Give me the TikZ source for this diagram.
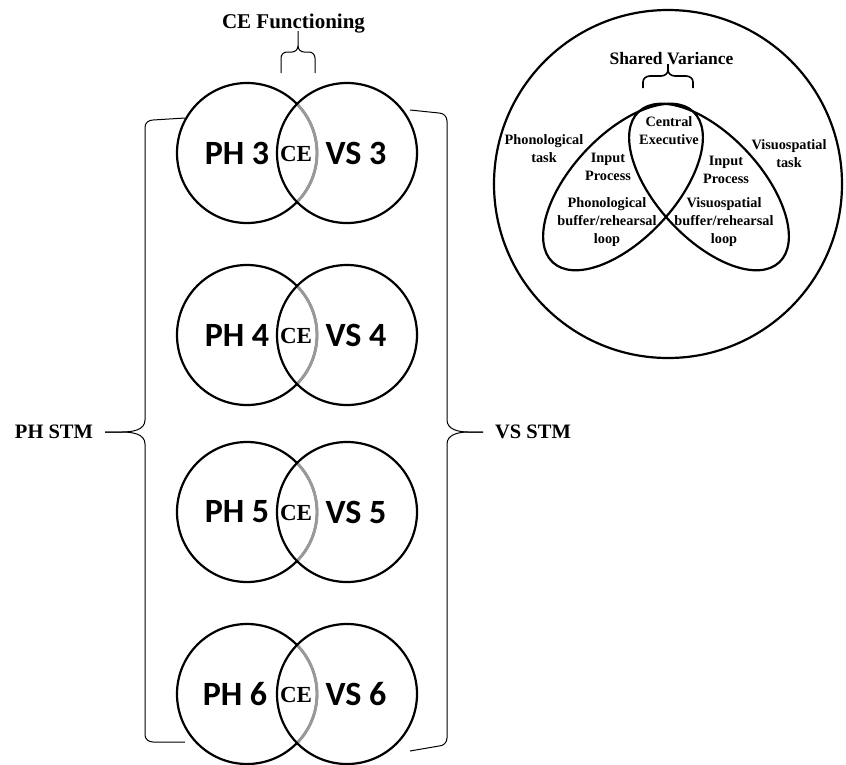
\documentclass[tikz,border=0pt]{standalone}
\usepackage{fontspec}
\setmainfont{Liberation Serif}
\newfontfamily\carlito{Carlito}
\usetikzlibrary{shapes.geometric}
\begin{document}
\begin{tikzpicture}[x=1pt,y=1pt,
  venn/.style={circle, draw, line width=2.2pt, minimum size=140pt, inner sep=0pt, outer sep=0pt},
  ceArc/.style={draw=black!40, line width=2.9pt},
  bigLbl/.style={font=\carlito\bfseries\fontsize{34}{40}\selectfont, inner sep=0pt},
  ceLbl/.style={font=\bfseries\fontsize{23}{27}\selectfont, inner sep=0pt},
  brace/.style={line width=1pt},
  thickbrace/.style={line width=1.6pt},
  stm/.style={font=\bfseries\fontsize{20.5}{24}\selectfont, inner sep=0pt},
  small/.style={font=\bfseries\fontsize{14.3}{18}\selectfont, align=center, inner sep=0pt},
  ell/.style={ellipse, draw, line width=2.2pt, minimum width=206pt, minimum height=104pt, inner sep=0pt, outer sep=0pt}
]
\useasboundingbox (0,0) rectangle (846,-764);

% ---- left column of Venn pairs ----
\foreach \r/\yy/\xp in {3/153/237,4/335/237,5/512/237,6/694/235} {
  \node[venn] (ph\r) at (247,-\yy) {};
  \draw[ceArc] ([shift={(-44.4:70)}]ph\r.center) arc[start angle=-44.4, end angle=44.4, radius=70];
  \node[venn] (vs\r) at (347,-\yy) {};
  \node[bigLbl] (phl\r) at (\xp,-\yy) {PH \r};
  \node[bigLbl] (vsl\r) at (356,-\yy) {VS \r};
  \node[ceLbl] (ce\r) at (296,-\yy-1) {CE};
}

% ---- CE Functioning ----
\node[font=\bfseries\fontsize{21}{25}\selectfont, inner sep=0pt, anchor=base] (cef) at (293.5,-28) {CE Functioning};
\draw[brace] (281,-73) -- (281,-58) to[out=90,in=180] (287,-52) -- (292,-52) to[out=0,in=-90] (298,-46) -- (298,-31);
\draw[brace] (315,-73) -- (315,-58) to[out=90,in=0] (309,-52) -- (304,-52) to[out=180,in=-90] (298,-46);

% ---- left brace: PH STM ----
\draw[brace] (185,-118) -- (153,-120) to[out=180,in=90] (145,-127) -- (145,-420) to[out=-90,in=0] (122,-432) -- (105,-432);
\draw[brace] (105,-432) -- (122,-432) to[out=0,in=90] (145,-444) -- (145,-735) to[out=-90,in=180] (153,-742) -- (185,-742);
\node[stm] (phstm) at (54,-432) {PH STM};

% ---- right brace: VS STM ----
\draw[brace] (410,-110) -- (439,-113) to[out=0,in=90] (447,-121) -- (447,-420) to[out=-90,in=180] (468,-432) -- (483,-432);
\draw[brace] (483,-432) -- (468,-432) to[out=180,in=90] (447,-444) -- (447,-738) to[out=-90,in=0] (439,-746) -- (410,-751);
\node[stm] (vsstm) at (533,-432) {VS STM};

% ---- right panel ----
\node[circle, draw, line width=2.2pt, minimum size=348pt, inner sep=0pt, outer sep=0pt] (outer) at (668,-184) {};
\node[ell, rotate=47] (lell) at (623,-187) {};
\node[ell, rotate=-47] (rell) at (709,-187) {};

\node[font=\bfseries\fontsize{17.5}{21}\selectfont, inner sep=0pt] (sv) at (671.5,-58.5) {Shared Variance};
\draw[thickbrace] (643,-88) -- (643,-82) to[out=90,in=180] (650,-76) -- (661,-76) to[out=0,in=-90] (668,-70) -- (668,-64);
\draw[thickbrace] (693,-88) -- (693,-82) to[out=90,in=0] (686,-76) -- (675,-76) to[out=180,in=-90] (668,-70);

\node[small] (cent) at (669,-131) {Central\\Executive};
\node[small] (inl) at (608,-166.5) {Input\\Process};
\node[small] (inr) at (726,-170) {Input\\Process};
\node[small] (pbuf) at (607,-222.5) {Phonological\\buffer/rehearsal\\loop};
\node[small] (vbuf) at (724,-222.5) {Visuospatial\\buffer/rehearsal\\loop};
\node[small] (ptask) at (544,-148.5) {Phonological\\task};
\node[small] (vtask) at (789,-153.5) {Visuospatial\\task};
\end{tikzpicture}
\end{document}
